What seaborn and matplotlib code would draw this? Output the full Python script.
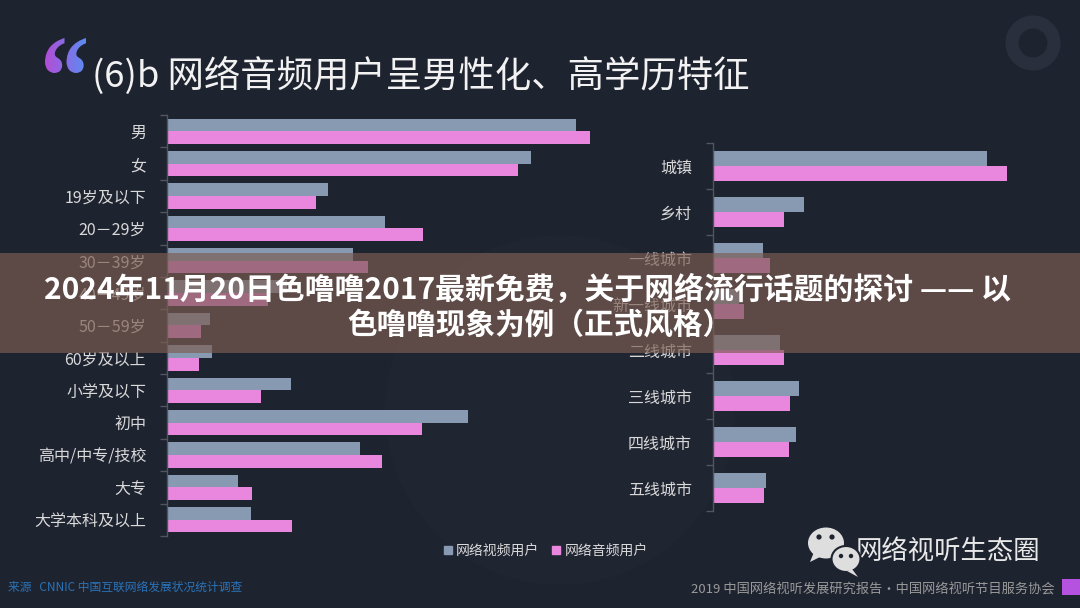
import numpy as np
import pandas as pd
import matplotlib
matplotlib.use("Agg")
import matplotlib.pyplot as plt
import seaborn as sns
from matplotlib.textpath import TextPath
from matplotlib.font_manager import FontProperties
from matplotlib.patches import PathPatch, Rectangle, Circle, Ellipse, Polygon
from matplotlib.transforms import Affine2D
from matplotlib.lines import Line2D
from matplotlib.ticker import FixedLocator
from matplotlib.colors import LinearSegmentedColormap

# ---------------- data ----------------
title_text = "(6)b 网络音频用户呈男性化、高学历特征"
series_names = ["网络视频用户", "网络音频用户"]

left_categories = ["男", "女", "19岁及以下", "20－29岁", "30－39岁", "40－49岁",
                   "50－59岁", "60岁及以上", "小学及以下", "初中", "高中/中专/技校",
                   "大专", "大学本科及以上"]
left_video = [52.9, 47.1, 20.8, 28.2, 24.1, 15.5, 5.6, 5.8, 16.0, 38.9, 25.0, 9.2, 10.9]
left_audio = [54.7, 45.4, 19.3, 33.1, 26.0, 13.1, 4.4, 4.1, 12.2, 33.0, 27.8, 11.0, 16.2]

right_categories = ["城镇", "乡村", "一线城市", "新一线城市", "二线城市",
                    "三线城市", "四线城市", "五线城市"]
right_video = [75.0, 25.0, 13.7, 7.1, 18.4, 23.6, 22.7, 14.5]
right_audio = [80.5, 19.5, 15.7, 8.6, 19.5, 21.2, 20.9, 13.9]

banner_lines = ["2024年11月20日色噜噜2017最新免费，关于网络流行话题的探讨 —— 以",
                "色噜噜现象为例（正式风格）"]
source_text = "来源   CNNIC 中国互联网络发展状况统计调查"
brand_text = "网络视听生态圈"
report_text = "2019 中国网络视听发展研究报告·中国网络视听节目服务协会"

# ---------------- style ----------------
BG = "#1e2330"
VIDEO_C = "#8899b2"
AUDIO_C = "#e986de"
LABEL_C = "#d9d9d9"
AXIS_C = "#50555f"

sns.set_theme(style="dark")
plt.rcParams["font.family"] = ["Noto Sans CJK SC", "DejaVu Sans"]

W, H = 1080, 608
fig = plt.figure(figsize=(10.8, 6.08), dpi=100, facecolor=BG)

# background decoration axes (pixel coordinates)
bg = fig.add_axes([0, 0, 1, 1], zorder=0)
bg.set_xlim(0, W)
bg.set_ylim(H, 0)
bg.axis("off")
bg.add_patch(Circle((560, 410), 175, color="#202532", lw=0))
bg.add_patch(Circle((1033, 43), 21, fill=False, lw=9.4, ec="#2a2f3d"))

# gradient quote mark
fp = FontProperties(family="Liberation Serif", weight="bold")
tp = TextPath((0, 0), "\u201c", size=100, prop=fp)
ext = tp.get_extents()
qx0, qx1, qy0, qy1 = 45, 86, 38, 73
T = (Affine2D().translate(-ext.x0, -ext.y0)
     .scale((qx1 - qx0) / ext.width, -(qy1 - qy0) / ext.height)
     .translate(qx0, qy1))
qpatch = PathPatch(tp, transform=T + bg.transData, fc="none", ec="none")
bg.add_patch(qpatch)
cmap = LinearSegmentedColormap.from_list("q", ["#b24dd6", "#5c8cf3"])
grad = np.tile(np.linspace(0, 1, 64), (16, 1))
im = bg.imshow(grad, extent=[qx0, qx1, qy1, qy0], cmap=cmap, aspect="auto", zorder=3)
im.set_clip_path(qpatch)
bg.set_xlim(0, W)
bg.set_ylim(H, 0)

# title
fig.text(92 / W, 1 - 76 / H, title_text, fontsize=26.2, color="#f2f2f2",
         ha="left", va="center")


def draw_panel(rect, cats, video, audio, xmax, width):
    ax = fig.add_axes(rect, zorder=2)
    ax.set_facecolor("none")
    n = len(cats)
    df = pd.DataFrame({
        "category": cats + cats,
        "value": video + audio,
        "series": [series_names[0]] * n + [series_names[1]] * n,
    })
    sns.barplot(data=df, y="category", x="value", hue="series", order=cats,
                hue_order=series_names, palette=[VIDEO_C, AUDIO_C], orient="h",
                width=width, dodge=True, errorbar=None, saturation=1,
                linewidth=0, legend=False, ax=ax)
    ax.set_xlim(0, xmax)
    ax.set_ylim(n - 0.5, -0.5)
    ax.grid(False)
    for s in ["top", "right", "bottom"]:
        ax.spines[s].set_visible(False)
    ax.spines["left"].set_color(AXIS_C)
    ax.spines["left"].set_linewidth(1)
    ax.set_xticks([])
    ax.set_xlabel("")
    ax.set_ylabel("")
    ax.yaxis.set_minor_locator(FixedLocator(np.arange(-0.5, n, 1.0)))
    ax.tick_params(axis="y", which="major", length=0, pad=15,
                   labelsize=11.5, labelcolor=LABEL_C)
    ax.tick_params(axis="y", which="minor", length=5, width=1, color=AXIS_C,
                   direction="out", left=True)
    return ax


left_xmax = 57
draw_panel([167 / W, 1 - 536 / H, left_xmax * 7.73 / W, 421 / H],
           left_categories, left_video, left_audio, left_xmax, 0.78)
right_xmax = 85
draw_panel([712.7 / W, 1 - 511 / H, right_xmax * 3.66 / W, 368 / H],
           right_categories, right_video, right_audio, right_xmax, 0.67)

# legend
handles = [Line2D([0], [0], marker="s", linestyle="none", markersize=6,
                  markerfacecolor=c, markeredgecolor=c) for c in (VIDEO_C, AUDIO_C)]
fig.legend(handles, series_names, loc="center", bbox_to_anchor=(545 / W, 1 - 551 / H),
           ncol=2, frameon=False, fontsize=10, labelcolor=LABEL_C,
           handletextpad=0.2, columnspacing=0.8, handlelength=0.8)

# footer texts
fig.text(8 / W, 1 - 587 / H, source_text, fontsize=8.5, color="#2a73b8",
         ha="left", va="center")
fig.text(856 / W, 1 - 551 / H, brand_text, fontsize=19, color="#e8e8e8",
         ha="left", va="center")
fig.text(1055 / W, 1 - 590 / H, report_text, fontsize=9.5, color="#9a9a9a",
         ha="right", va="center")

# overlay: wechat icon, small tag, banner
ov = fig.add_axes([0, 0, 1, 1], zorder=10)
ov.set_xlim(0, W)
ov.set_ylim(H, 0)
ov.axis("off")
ov.add_patch(Ellipse((826, 543), 36, 31, color="#dedede", lw=0))
ov.add_patch(Polygon([[814, 552], [810, 562], [822, 556]], color="#dedede", lw=0))
ov.add_patch(Ellipse((846, 559), 29, 26, fc="#dedede", ec=BG, lw=1.5))
ov.add_patch(Polygon([[852, 569], [858, 577], [847, 571]], color="#dedede", lw=0))
for (cx, cy, r) in [(819, 537, 2.6), (832, 537, 2.6), (841, 556, 2.2), (851, 556, 2.2)]:
    ov.add_patch(Circle((cx, cy), r, color=BG, lw=0))
ov.add_patch(Rectangle((1062, 579), 18, 16, fc="#b552e0", lw=0))

ov.add_patch(Rectangle((0, 253), W, 100, fc="#7c5e52", alpha=0.68, lw=0))
ov.text(527, 290, banner_lines[0], fontsize=21.5, fontweight="bold", color="white",
        ha="center", va="center")
ov.text(540, 325, banner_lines[1], fontsize=21.3, fontweight="bold", color="white",
        ha="center", va="center")

fig.savefig("out.png", dpi=100, facecolor=BG)
